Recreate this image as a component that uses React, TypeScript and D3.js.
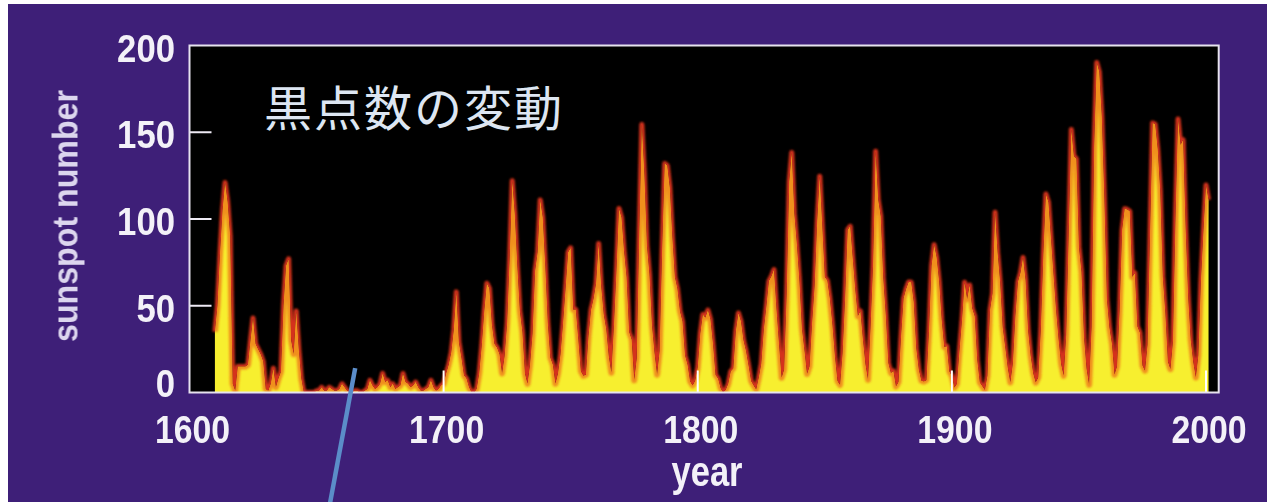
import React from "react";
import * as d3 from "d3";

// ---- data ----
const earlyStart = 1610;
const earlyValues = [35, 50, 80, 105, 121, 110, 90, 5, 1, 15, 15, 15, 15, 16, 30, 43, 28, 25, 22, 18, 2, 1, 5, 14, 3, 8, 12, 50, 73, 77, 30, 22, 47, 25, 8, 0];

const maunderStart = 1646;
const maunderValues = [0, 0, 0, 0, 1, 1, 3, 1, 1, 3, 2, 1, 1, 2, 5, 3, 1, 0, 0, 1, 1, 0, 0, 1, 2, 7, 4, 2, 3, 5, 11, 6, 7, 3, 5, 2, 3, 4, 11, 6, 5, 3, 4, 6, 3, 1, 1, 2, 3, 7, 3, 1, 2, 4];

const modernStart = 1700;
const modernValues = [
  5, 11, 16, 23, 36, 58, 29, 20, 10, 8,
  3, 0, 0, 2, 11, 27, 47, 63, 60, 39,
  28, 26, 22, 11, 21, 40, 78, 122, 103, 73,
  47, 35, 11, 5, 16, 34, 70, 81, 111, 101,
  73, 40, 20, 16, 5, 11, 22, 40, 60, 80.9,
  83.4, 47.7, 47.8, 30.7, 12.2, 9.6, 10.2, 32.4, 47.6, 54.0,
  62.9, 85.9, 61.2, 45.1, 36.4, 20.9, 11.4, 37.8, 69.8, 106.1,
  100.8, 81.6, 66.5, 34.8, 30.6, 7.0, 19.8, 92.5, 154.4, 125.9,
  84.8, 68.1, 38.5, 22.8, 10.2, 24.1, 82.9, 132.0, 130.9, 118.1,
  89.9, 66.6, 60.0, 46.9, 41.0, 21.3, 16.0, 6.4, 4.1, 6.8,
  14.5, 34.0, 45.0, 43.1, 47.5, 42.2, 28.1, 10.1, 8.1, 2.5,
  0.0, 1.4, 5.0, 12.2, 13.9, 35.4, 45.8, 41.1, 30.1, 23.9,
  15.6, 6.6, 4.0, 1.8, 8.5, 16.6, 36.3, 49.6, 64.2, 67.0,
  70.9, 47.8, 27.5, 8.5, 13.2, 56.9, 121.5, 138.3, 103.2, 85.7,
  64.6, 36.7, 24.2, 10.7, 15.0, 40.1, 61.5, 98.5, 124.7, 96.3,
  66.6, 64.5, 54.1, 39.0, 20.6, 6.7, 4.3, 22.7, 54.8, 93.8,
  95.8, 77.2, 59.1, 44.0, 47.0, 30.5, 16.3, 7.3, 37.6, 74.0,
  139.0, 111.2, 101.6, 66.2, 44.7, 17.0, 11.3, 12.4, 3.4, 6.0,
  32.3, 54.3, 59.7, 63.7, 63.5, 52.2, 25.4, 13.1, 6.8, 6.3,
  7.1, 35.6, 73.0, 85.1, 78.0, 64.0, 41.8, 26.2, 26.7, 12.1,
  9.5, 2.7, 5.0, 24.4, 42.0, 63.5, 53.8, 62.0, 48.5, 43.9,
  18.6, 5.7, 3.6, 1.4, 9.6, 47.4, 57.1, 103.9, 80.6, 63.6,
  37.6, 26.1, 14.2, 5.8, 16.7, 44.3, 63.9, 69.0, 77.8, 64.9,
  35.7, 21.2, 11.1, 5.7, 8.7, 36.1, 79.7, 114.4, 109.6, 88.8,
  67.8, 47.5, 30.6, 16.3, 9.6, 33.2, 92.6, 151.6, 136.3, 134.7,
  83.9, 69.4, 31.5, 13.9, 4.4, 38.0, 141.7, 190.2, 184.8, 159.0,
  112.3, 53.9, 37.5, 27.9, 10.2, 15.1, 47.0, 93.8, 105.9, 105.5,
  104.5, 66.6, 68.9, 38.0, 34.5, 15.5, 12.6, 27.5, 92.5, 155.4,
  154.6, 140.4, 115.9, 66.6, 45.9, 17.9, 13.4, 29.4, 100.2, 157.6,
  142.6, 145.7, 94.3, 54.6, 29.9, 17.5, 8.6, 21.5, 64.3, 93.3,
  119.6, 111.0,
];

const yTicks = [0, 50, 100, 150, 200];
const xTicks = [1600, 1700, 1800, 1900, 2000];
const title = "黒点数の変動";
const xLabel = "year";
const yLabel = "sunspot number";

type Pt = { year: number; value: number };
const series: Pt[] = [
  ...earlyValues.map((v, i) => ({ year: earlyStart + i, value: v })),
  ...maunderValues.map((v, i) => ({ year: maunderStart + i, value: v })),
  ...modernValues.map((v, i) => ({ year: modernStart + i, value: v })),
];

const W = 1267;
const H = 502;

export default function App() {
  const x = d3.scaleLinear().domain([1600, 2000]).range([189.5, 1206]);
  const y = d3.scaleLinear().domain([0, 200]).range([392.5, 45.5]);
  const left = x(1600);
  const right = x(2005);
  const top = y(200);
  const bottom = y(0);

  const area = d3
    .area<Pt>()
    .x((d) => x(d.year))
    .y0(bottom + 4)
    .y1((d) => y(d.value));
  const line = d3
    .line<Pt>()
    .x((d) => x(d.year))
    .y((d) => y(d.value));

  const areaD = area(series) ?? "";
  const lineD = line(series) ?? "";

  const labelFont = "'Liberation Sans', Arial, sans-serif";
  const textColor = "#f3f1f8";

  return (
    <svg
      width={W}
      height={H}
      style={{ position: "absolute", left: 0, top: 0 }}
    >
      <defs>
        <clipPath id="plotClip">
          <rect x={left} y={top} width={right - left} height={bottom - top} />
        </clipPath>
        <clipPath id="insideArea">
          <path d={areaD} />
        </clipPath>
        <mask id="outsideArea" maskUnits="userSpaceOnUse" x={0} y={0} width={W} height={H}>
          <rect x={0} y={0} width={W} height={H} fill="white" />
          <path d={areaD} fill="black" />
        </mask>
        <filter id="soft" x="-5%" y="-5%" width="110%" height="110%">
          <feGaussianBlur stdDeviation="0.8" />
        </filter>
        <filter id="txt" x="-5%" y="-5%" width="110%" height="110%">
          <feGaussianBlur stdDeviation="0.45" />
        </filter>
      </defs>
      <rect x={0} y={0} width={W} height={H} fill="#ffffff" />
      <rect x={8} y={4} width={W - 8} height={H - 4} fill="#3e1f78" />

      {/* plot area */}
      <rect x={left} y={top} width={right - left} height={bottom - top} fill="#000000" />
      <g clipPath="url(#plotClip)">
        <path d={areaD} fill="#f7ef2f" />
        <g clipPath="url(#insideArea)">
          <path
            d={lineD}
            fill="none"
            stroke="#f0901f"
            strokeWidth={6}
            strokeLinejoin="round"
            filter="url(#soft)"
          />
        </g>
        <g mask="url(#outsideArea)">
          <path
            d={lineD}
            fill="none"
            stroke="#d4321a"
            strokeWidth={5}
            strokeLinejoin="round"
            filter="url(#soft)"
          />
        </g>
      </g>

      {/* ticks */}
      {yTicks
        .filter((t) => t > 0 && t < 200)
        .map((t) => (
          <line key={"yt" + t} x1={left} x2={left + 22} y1={y(t)} y2={y(t)} stroke="#eeeaf4" strokeWidth={2} />
        ))}
      {xTicks
        .filter((t) => t > 1600)
        .map((t) => (
          <line key={"xt" + t} x1={x(t)} x2={x(t)} y1={bottom} y2={bottom - 22} stroke="#ffffff" strokeWidth={2} />
        ))}

      {/* frame */}
      <rect
        x={left}
        y={top}
        width={right - left}
        height={bottom - top}
        fill="none"
        stroke="#e6e2ee"
        strokeWidth={2}
      />

      {/* title */}
      <text
        x={264}
        y={126}
        fontFamily="'Noto Sans CJK JP', 'Noto Sans CJK SC', sans-serif"
        fontSize={48}
        letterSpacing={2}
        fill="#dde6f2"
      >
        {title}
      </text>

      {/* y tick labels */}
      {yTicks.map((t) => (
        <text
          key={"yl" + t}
          x={175}
          y={y(t) + 16 - (t === 0 ? 12 : 0)}
          textAnchor="end"
          fontFamily={labelFont}
          fontWeight="bold"
          fontSize={39}
          fill={textColor}
          textLength={String(t).length * 19.3}
          lengthAdjust="spacingAndGlyphs"
          filter="url(#txt)"
        >
          {t}
        </text>
      ))}

      {/* x tick labels */}
      {xTicks.map((t) => (
        <text
          key={"xl" + t}
          x={x(t) + 3}
          y={443}
          textAnchor="middle"
          fontFamily={labelFont}
          fontWeight="bold"
          fontSize={39}
          fill={textColor}
          textLength={String(t).length * 18.8}
          lengthAdjust="spacingAndGlyphs"
          filter="url(#txt)"
        >
          {t}
        </text>
      ))}

      {/* axis titles */}
      <text
        x={707}
        y={486}
        textAnchor="middle"
        fontFamily={labelFont}
        fontWeight="bold"
        fontSize={42}
        fill={textColor}
        textLength={71}
        lengthAdjust="spacingAndGlyphs"
        filter="url(#txt)"
      >
        {xLabel}
      </text>
      <text
        transform={`translate(77.5, 216) rotate(-90)`}
        textAnchor="middle"
        fontFamily={labelFont}
        fontWeight="bold"
        fontSize={35}
        fill="#dcd6ee"
        textLength={252}
        lengthAdjust="spacingAndGlyphs"
        filter="url(#txt)"
      >
        {yLabel}
      </text>

      {/* annotation pointer */}
      <line
        x1={x(1665.2)}
        y1={y(14)}
        x2={x(1654.5)}
        y2={y(-70)}
        stroke="#5b8dc9"
        strokeWidth={4.5}
      />
    </svg>
  );
}
